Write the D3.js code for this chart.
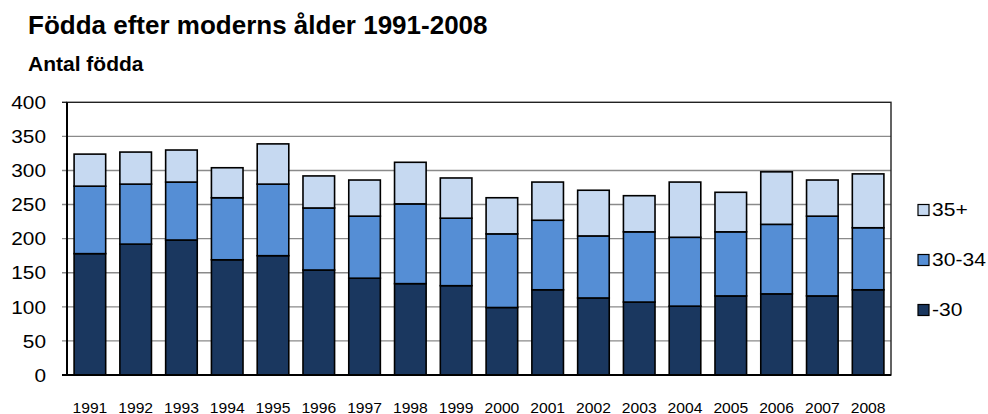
<!DOCTYPE html>
<html>
<head>
<meta charset="utf-8">
<script src="https://cdn.jsdelivr.net/npm/d3@7"></script>
<style>
  html, body { margin: 0; padding: 0; background: #fff; }
  svg { display: block; }
  text { font-family: "Liberation Sans", Arial, sans-serif; fill: #000; }
</style>
</head>
<body>
<svg id="chart" width="988" height="414"></svg>
<script>
const years = ["1991","1992","1993","1994","1995","1996","1997","1998","1999","2000","2001","2002","2003","2004","2005","2006","2007","2008"];
const under30 = [178,192,198,169,175,154,142,134,131,99,125,113,107,101,116,119,116,125];
const age30to34 = [99,88,85,91,105,91,91,117,99,108,102,91,103,101,94,102,117,91];
const age35plus = [47,47,47,44,59,47,53,61,59,53,56,67,53,81,58,77,53,79];
const seriesNames = ["-30","30-34","35+"];
const seriesColors = ["#1a375f","#558ed5","#c6d9f1"];
const yTicks = [0,50,100,150,200,250,300,350,400];

const svg = d3.select("#chart");
const plotLeft = 67, plotRight = 891, plotTop = 102.3, plotBottom = 375;

const rows = years.map((yr, i) => ({year: yr, "-30": under30[i], "30-34": age30to34[i], "35+": age35plus[i]}));
const stacked = d3.stack().keys(seriesNames)(rows);

const x = d3.scaleBand().domain(years).range([plotLeft, plotRight]).paddingInner(0.31).paddingOuter(0.155);
const y = d3.scaleLinear().domain([0, 400]).range([plotBottom, plotTop]);

function stext(sel, tx, ty, sx) {
  return sel.attr("transform", `translate(${tx},${ty}) scale(${sx},1)`);
}

// gridlines
svg.append("g").selectAll("line").data(yTicks.filter(t => t > 0 && t < 400)).join("line")
  .attr("x1", plotLeft - 5).attr("x2", plotRight)
  .attr("y1", d => y(d)).attr("y2", d => y(d))
  .attr("stroke", "#8a8a8a").attr("stroke-width", 1.4);

// plot border
svg.append("rect").attr("x", plotLeft).attr("y", plotTop).attr("width", plotRight - plotLeft).attr("height", plotBottom - plotTop)
  .attr("fill", "none").attr("stroke", "#222").attr("stroke-width", 1.4);
svg.append("line").attr("x1", plotLeft - 5).attr("x2", plotLeft).attr("y1", y(400)).attr("y2", y(400))
  .attr("stroke", "#222").attr("stroke-width", 1.4);

// bars
svg.append("g").selectAll("g").data(stacked).join("g")
  .attr("fill", (d, i) => seriesColors[i])
  .selectAll("rect").data(d => d).join("rect")
  .attr("x", d => x(d.data.year))
  .attr("width", x.bandwidth())
  .attr("y", d => y(d[1]))
  .attr("height", d => y(d[0]) - y(d[1]))
  .attr("stroke", "#000").attr("stroke-width", 1.6);

// axes lines
svg.append("line").attr("x1", plotLeft).attr("x2", plotLeft).attr("y1", plotTop).attr("y2", plotBottom)
  .attr("stroke", "#000").attr("stroke-width", 2);
svg.append("line").attr("x1", plotLeft - 5).attr("x2", plotRight).attr("y1", plotBottom).attr("y2", plotBottom)
  .attr("stroke", "#000").attr("stroke-width", 2);

// y labels
svg.append("g").selectAll("text").data(yTicks).join("text")
  .each(function(d) { stext(d3.select(this), 46, y(d), 1.12); })
  .attr("text-anchor", "end").attr("dy", "0.36em")
  .style("font-size", "18.6px")
  .text(d => d);

// x labels
svg.append("g").selectAll("text").data(years).join("text")
  .each(function(d) { stext(d3.select(this), x(d) + x.bandwidth() / 2, 412.5, 1.08); })
  .attr("text-anchor", "middle")
  .style("font-size", "14.5px")
  .text(d => d);

// title
svg.append("text").attr("x", 28).attr("y", 34)
  .style("font-size", "26px").style("font-weight", "bold")
  .text("Födda efter moderns ålder 1991-2008");
stext(svg.append("text"), 28, 71, 1.05)
  .style("font-size", "20px").style("font-weight", "bold")
  .text("Antal födda");

// legend (top to bottom: 35+, 30-34, -30)
const legendOrder = [2, 1, 0];
const legendY = [210, 260, 310];
const lg = svg.append("g");
legendOrder.forEach((si, k) => {
  lg.append("rect").attr("x", 918).attr("y", legendY[k] - 5.5).attr("width", 11).attr("height", 11)
    .attr("fill", seriesColors[si]).attr("stroke", "#000").attr("stroke-width", 1.2);
  stext(lg.append("text"), 932, legendY[k], 1.17)
    .attr("dy", "0.36em").style("font-size", "18px")
    .text(seriesNames[si]);
});
</script>
</body>
</html>
